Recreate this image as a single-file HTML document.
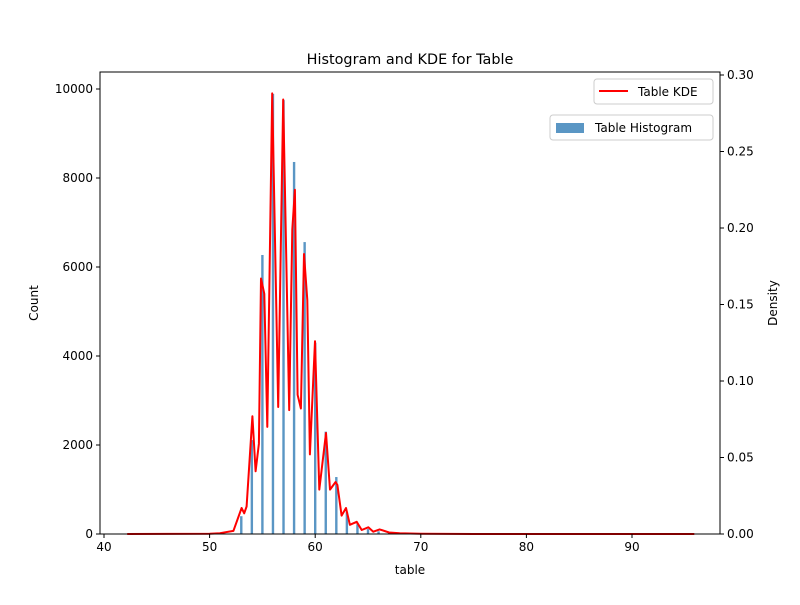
<!DOCTYPE html>
<html><head><meta charset="utf-8"><style>
body{margin:0;background:#fff}
svg text{font-family:"DejaVu Sans","Liberation Sans",sans-serif;fill:#000}
</style></head><body>
<svg id="chart" width="800" height="600" viewBox="0 0 800 600" xmlns="http://www.w3.org/2000/svg">
<rect width="800" height="600" fill="#fff"/>
<text x="410" y="64" font-size="14.4" text-anchor="middle">Histogram and KDE for Table</text>
<g id="bars"></g>
<g id="kde"></g>
<g id="axes"></g>
<text x="410" y="574" font-size="12" text-anchor="middle">table</text>
<text transform="translate(38,303) rotate(-90)" font-size="12" text-anchor="middle">Count</text>
<text transform="translate(777,303) rotate(-90)" font-size="12" text-anchor="middle">Density</text>
<g>
<rect x="594" y="79" width="119" height="25" rx="3" fill="#fff" fill-opacity="0.8" stroke="#ccc"/>
<line x1="599" y1="91" x2="628" y2="91" stroke="#f00" stroke-width="2"/>
<text x="638" y="96" font-size="12">Table KDE</text>
</g>
<g>
<rect x="550" y="115" width="163" height="25" rx="3" fill="#fff" fill-opacity="0.8" stroke="#ccc"/>
<rect x="556" y="123" width="28" height="10" fill="#5a96c4"/>
<text x="595" y="132" font-size="12">Table Histogram</text>
</g>
</svg>
<script>
const binCenters=[53,54,55,56,57,58,59,60,61,62,63,64,65,66,67,68];
const binCounts=[400,2110,6270,9890,9750,8360,6560,4300,2300,1280,500,220,110,60,25,10];
const kdeX=[42.2,50,50.98,52.25,53.03,53.28,53.5,54.05,54.36,54.67,54.87,55.18,55.46,55.93,56.5,56.97,57.54,57.83,58.08,58.33,58.65,58.94,59.25,59.5,59.98,60.39,61.02,61.4,61.93,62.1,62.5,62.92,63.29,63.93,64.4,65.03,65.5,66.1,67,68,70,75,95.9];
const kdeY=[0,0.0002,0.0005,0.002,0.017,0.0135,0.018,0.077,0.041,0.059,0.167,0.157,0.070,0.288,0.083,0.284,0.081,0.199,0.225,0.091,0.082,0.183,0.153,0.052,0.126,0.029,0.066,0.029,0.034,0.032,0.012,0.017,0.006,0.008,0.0026,0.0044,0.0015,0.003,0.001,0.0005,0.0002,0,0];
const xTicks=[40,50,60,70,80,90];
const yTicks=[0,2000,4000,6000,8000,10000];
const y2Ticks=[0,0.05,0.10,0.15,0.20,0.25,0.30];
const y2Labels=["0.00","0.05","0.10","0.15","0.20","0.25","0.30"];

const L=100,R=720,T=72,B=534;
const xs=v=>104+(v-40)*10.56;
const ys=v=>B-v*0.0445;
const y2s=v=>B-v*1530;
const NS="http://www.w3.org/2000/svg";
function mk(tag,attrs,parent){const e=document.createElementNS(NS,tag);for(const k in attrs)e.setAttribute(k,attrs[k]);parent.appendChild(e);return e;}

const bars=document.getElementById('bars');
binCenters.forEach((c,i)=>{
  const r=mk('rect',{x:xs(c)-1.2,y:ys(binCounts[i]),width:2.4,height:B-ys(binCounts[i]),fill:'#5a96c4'},bars);
  
  
});
const kde=document.getElementById('kde');
const p=mk('polyline',{points:kdeX.map((x,i)=>xs(x).toFixed(1)+','+y2s(kdeY[i]).toFixed(1)).join(' '),fill:'none',stroke:'#f00','stroke-width':2,'stroke-linejoin':'round'},kde);



const ax=document.getElementById('axes');
mk('rect',{x:L,y:T,width:R-L,height:B-T,fill:'none',stroke:'#000','stroke-width':1},ax);
xTicks.forEach(t=>{
  const x=xs(t);
  mk('line',{x1:x,y1:B,x2:x,y2:B+4,stroke:'#000'},ax);
  const tx=mk('text',{x:x,y:B+17,'font-size':12,'text-anchor':'middle'},ax);tx.textContent=t;
  
  
});
yTicks.forEach(t=>{
  const y=ys(t);
  mk('line',{x1:L,y1:y,x2:L-4,y2:y,stroke:'#000'},ax);
  const tx=mk('text',{x:L-7,y:y+4,'font-size':12,'text-anchor':'end'},ax);tx.textContent=t;
  
  
});
y2Ticks.forEach((t,i)=>{
  const y=y2s(t);
  mk('line',{x1:R,y1:y,x2:R+4,y2:y,stroke:'#000'},ax);
  const tx=mk('text',{x:R+7,y:y+4,'font-size':12,'text-anchor':'start'},ax);tx.textContent=y2Labels[i];
  
  
});
</script>
</body></html>
